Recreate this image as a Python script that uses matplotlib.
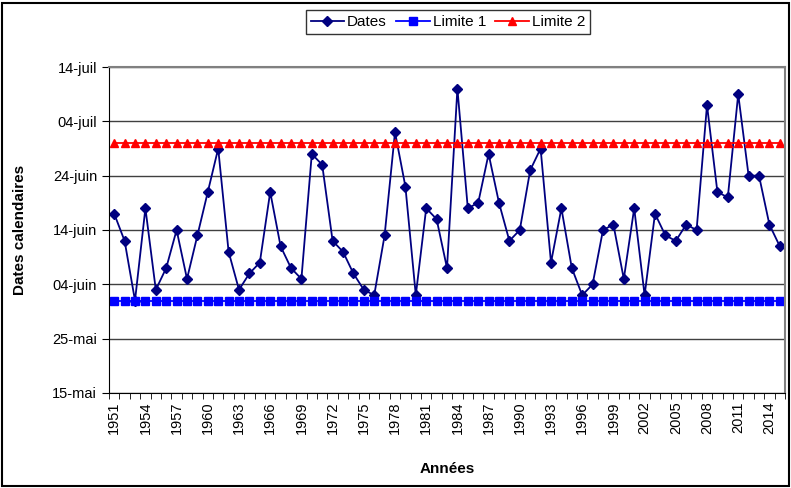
import matplotlib.pyplot as plt
from matplotlib.patches import Rectangle
from matplotlib.ticker import FixedLocator, NullFormatter

plt.rcParams["font.family"] = ["Liberation Sans", "DejaVu Sans"]

# day of year (non-leap) for each flowering date
years = list(range(1951, 2016))
dates = [
    168, 163, 152, 169, 154, 158, 165, 156, 164, 172,
    180, 161, 154, 157, 159, 172, 162, 158, 156, 179,
    177, 163, 161, 157, 154, 153, 164, 183, 173, 153,
    169, 167, 158, 191, 169, 170, 179, 170, 163, 165,
    176, 180, 159, 169, 158, 153, 155, 165, 166, 156,
    169, 153, 168, 164, 163, 166, 165, 188, 172, 171,
    190, 175, 175, 166, 162,
]
limite_1 = 152
limite_2 = 181

y_ticks = [135, 145, 155, 165, 175, 185, 195]
y_labels = ["15-mai", "25-mai", "04-juin", "14-juin", "24-juin", "04-juil", "14-juil"]

fig = plt.figure(figsize=(7.91, 4.88), dpi=100)
ax = fig.add_axes([109 / 791, 1 - 393 / 488, 676 / 791, 326 / 488])

x = list(range(len(years)))
ax.plot(x, dates, color="#000080", marker="D", markersize=5.5, linewidth=1.3, label="Dates")
ax.plot(x, [limite_1] * len(x), color="#0000FF", marker="s", markersize=5.5, linewidth=1.3, label="Limite 1")
ax.plot(x, [limite_2] * len(x), color="#FF0000", marker="^", markersize=6, linewidth=1.3, label="Limite 2")

ax.set_xlim(-0.5, len(years) - 0.5)
ax.set_ylim(135, 195)
ax.set_yticks(y_ticks)
ax.set_yticklabels(y_labels, fontsize=10.5)
ax.grid(axis="y", color="#404040", linewidth=1)
ax.set_axisbelow(True)

ax.set_xticks(x[::3])
ax.set_xticklabels([str(y) for y in years[::3]], rotation=90, fontsize=10.5)
ax.tick_params(axis="x", length=0, pad=6)
ax.xaxis.set_minor_locator(FixedLocator([i - 0.5 for i in range(len(years) + 1)]))
ax.xaxis.set_minor_formatter(NullFormatter())
ax.tick_params(axis="x", which="minor", length=4, color="black", direction="out")
ax.tick_params(axis="y", length=5, direction="out", color="black")

for side in ["top", "right"]:
    ax.spines[side].set_color("#808080")
    ax.spines[side].set_linewidth(1.5)
for side in ["left", "bottom"]:
    ax.spines[side].set_color("black")

ax.set_xlabel("Années", fontsize=11, fontweight="bold", labelpad=20)
ax.set_ylabel("Dates calendaires", fontsize=11, fontweight="bold", labelpad=18)

leg = fig.legend(
    loc="center", bbox_to_anchor=(448 / 791, 1 - 22 / 488), ncol=3, fontsize=11,
    frameon=True, fancybox=False, edgecolor="black", handlelength=2.2,
    handletextpad=0.2, columnspacing=0.6, borderpad=0.3,
)
leg.get_frame().set_linewidth(1)

fig.patches.append(Rectangle((0.002, 0.004), 0.996, 0.99, transform=fig.transFigure,
                             fill=False, edgecolor="black", linewidth=1.5))

fig.savefig("out.png", dpi=100)
